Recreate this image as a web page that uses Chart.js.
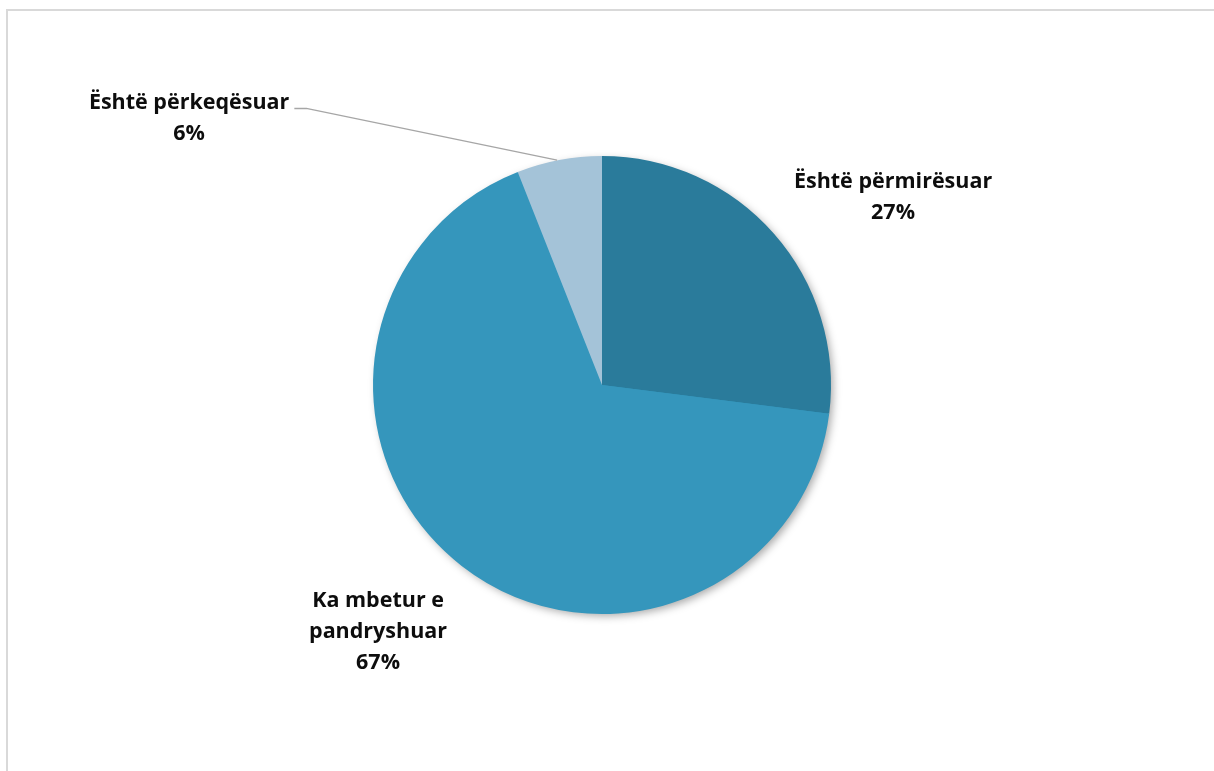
<!DOCTYPE html>
<html>
<head>
<meta charset="utf-8">
<script src="https://cdn.jsdelivr.net/npm/chart.js@4.4.1/dist/chart.umd.min.js"></script>
<style>
    html, body { margin: 0; padding: 0; background: #fff; overflow: hidden; }
    #wrap { position: relative; width: 1214px; height: 771px; }
    #frame { position: absolute; left: 6px; top: 9px; width: 1400px; height: 1000px; border: 2px solid #d9d9d9; box-sizing: border-box; }
    canvas { position: absolute; left: 0; top: 0; }
</style>
</head>
<body>
<div id="wrap">
    <div id="frame"></div>
    <canvas id="grafico" width="1214" height="771"></canvas>
</div>
<script>
// Dados do gráfico
const categorias = [["Është përmirësuar"], ["Ka mbetur e", "pandryshuar"], ["Është përkeqësuar"]];
const valores = [27, 67, 6];
const cores = ["#2a7b9b", "#3596bc", "#a4c3d8"];

// Posição dos rótulos relativa ao centro, em múltiplos do raio
const posRotulos = [
    { dx: 1.271, dy: -0.82, linha: false },
    { dx: -0.978, dy: 1.08, linha: false },
    { dx: -1.803, dy: -1.166, linha: true }
];

// Sombra suave atrás da pizza inteira
const sombraPizza = {
    id: "sombraPizza",
    beforeDatasetsDraw(chart) {
        const arco = chart.getDatasetMeta(0).data[0];
        const ctx = chart.ctx;
        ctx.save();
        ctx.shadowColor = "rgba(0,0,0,0.35)";
        ctx.shadowBlur = 9;
        ctx.shadowOffsetX = 3;
        ctx.shadowOffsetY = 3;
        ctx.beginPath();
        ctx.arc(arco.x, arco.y, arco.outerRadius - 1, 0, Math.PI * 2);
        ctx.fillStyle = "#3596bc";
        ctx.fill();
        ctx.restore();
    }
};

// Rótulos com nome e percentual, e linha guia para a fatia pequena
const rotulos = {
    id: "rotulos",
    afterDatasetsDraw(chart) {
        const ctx = chart.ctx;
        const total = valores.reduce((a, b) => a + b, 0);
        chart.getDatasetMeta(0).data.forEach((arco, i) => {
            const r = arco.outerRadius;
            const pos = posRotulos[i];
            const x = arco.x + pos.dx * r;
            const linhas = categorias[i].concat([Math.round(valores[i] / total * 100) + "%"]);
            const alturaLinha = 31;
            const y0 = arco.y + pos.dy * r - (linhas.length - 1) * alturaLinha / 2;

            ctx.save();
            ctx.font = "bold 21.5px 'Open Sans', sans-serif";
            ctx.fillStyle = "#0d0d0d";
            ctx.textAlign = "center";
            ctx.textBaseline = "middle";
            linhas.forEach((t, k) => ctx.fillText(t, x, y0 + k * alturaLinha));

            if (pos.linha) {
                const meio = (arco.startAngle + arco.endAngle) / 2;
                const px = arco.x + Math.cos(meio) * r;
                const py = arco.y + Math.sin(meio) * r;
                const largura = ctx.measureText(linhas[0]).width;
                const lx = x + largura / 2 + 5;
                ctx.strokeStyle = "#a6a6a6";
                ctx.lineWidth = 1.3;
                ctx.beginPath();
                ctx.moveTo(lx, y0 + 6);
                ctx.lineTo(lx + 12, y0 + 6);
                ctx.lineTo(px - 2, py);
                ctx.stroke();
            }
            ctx.restore();
        });
    }
};

new Chart(document.getElementById("grafico").getContext("2d"), {
    type: "pie",
    data: {
        labels: categorias.map(c => c.join(" ")),
        datasets: [{
            data: valores,
            backgroundColor: cores,
            borderWidth: 0
        }]
    },
    options: {
        responsive: false,
        animation: false,
        layout: { padding: { left: 300, right: 310, top: 156, bottom: 157 } },
        plugins: {
            legend: { display: false },
            tooltip: { enabled: false }
        }
    },
    plugins: [sombraPizza, rotulos]
});
</script>
</body>
</html>
